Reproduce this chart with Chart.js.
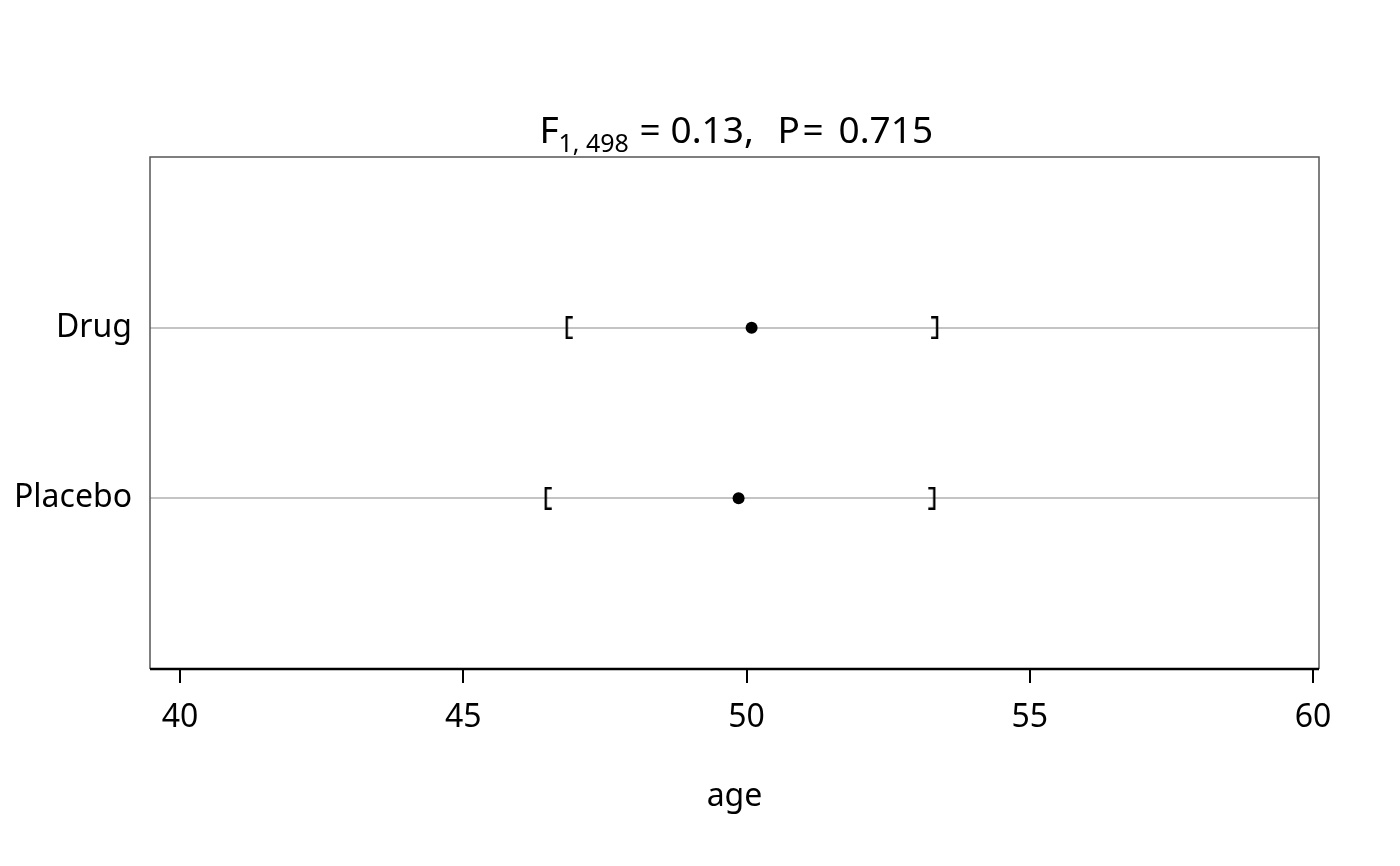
<!DOCTYPE html>
<html>
<head>
<meta charset="utf-8">
<script src="https://cdn.jsdelivr.net/npm/chart.js@4"></script>
<style>
  html, body { margin: 0; padding: 0; background: #fff; }
  #wrap { width: 1400px; height: 866px; }
</style>
</head>
<body>
<div id="wrap"><canvas id="myChart" width="1400" height="866"></canvas></div>
<script>
// groups, bottom to top
const groups = ["Placebo", "Drug"];
const means = [49.86, 50.09];
const lower = [46.50, 46.87];
const upper = [53.27, 53.32];
const xTicks = [40, 45, 50, 55, 60];

const FONT = "'Noto Sans', 'Open Sans', sans-serif";

// small bracket glyphs used as point styles
function bracket(side) {
  const c = document.createElement("canvas");
  c.width = 9;
  c.height = 23;
  const g = c.getContext("2d");
  g.strokeStyle = "#000";
  g.lineWidth = 2.4;
  g.beginPath();
  if (side === "[") {
    g.moveTo(8, 1.2); g.lineTo(2, 1.2); g.lineTo(2, 21.8); g.lineTo(8, 21.8);
  } else {
    g.moveTo(1, 1.2); g.lineTo(7, 1.2); g.lineTo(7, 21.8); g.lineTo(1, 21.8);
  }
  g.stroke();
  return c;
}

const toPoints = (arr) => arr.map((v, i) => ({ x: v, y: i + 1 }));

// title pieces, offsets from the left end of the title (plotmath-like spacing)
const titleParts = [
  { text: "F", dx: 0, sub: false },
  { text: "1, 498", dx: 19, sub: true },
  { text: "=", dx: 100, sub: false },
  { text: "0.13,", dx: 131, sub: false },
  { text: "P", dx: 238, sub: false },
  { text: "=", dx: 263, sub: false },
  { text: "0.715", dx: 299, sub: false }
];
const titleWidth = 398;

const frameAndTitle = {
  id: "frameAndTitle",
  afterDraw(chart) {
    const ctx = chart.ctx;
    const a = chart.chartArea;
    ctx.save();
    // plot frame
    ctx.strokeStyle = "#555";
    ctx.lineWidth = 1.5;
    ctx.beginPath();
    ctx.moveTo(a.left, a.bottom);
    ctx.lineTo(a.left, a.top);
    ctx.lineTo(a.right, a.top);
    ctx.lineTo(a.right, a.bottom);
    ctx.stroke();
    // axis line
    ctx.strokeStyle = "#000";
    ctx.lineWidth = 2.5;
    ctx.beginPath();
    ctx.moveTo(a.left, a.bottom);
    ctx.lineTo(a.right, a.bottom);
    ctx.stroke();

    // title
    const x0 = (a.left + a.right) / 2 + 4 - titleWidth / 2;
    const base = 143;
    ctx.fillStyle = "#000";
    ctx.textBaseline = "alphabetic";
    ctx.textAlign = "left";
    titleParts.forEach((p) => {
      ctx.font = (p.sub ? "25px " : "37px ") + FONT;
      ctx.fillText(p.text, x0 + p.dx, p.sub ? base + 9 : base);
    });
    ctx.restore();
  }
};

const ctx = document.getElementById("myChart").getContext("2d");
const myChart = new Chart(ctx, {
  type: "scatter",
  data: {
    datasets: [
      {
        label: "lower",
        data: toPoints(lower),
        pointStyle: bracket("["),
        pointRadius: 6
      },
      {
        label: "upper",
        data: toPoints(upper),
        pointStyle: bracket("]"),
        pointRadius: 6
      },
      {
        label: "mean",
        data: toPoints(means),
        pointStyle: "circle",
        pointRadius: 6,
        backgroundColor: "#000",
        borderColor: "#000",
        borderWidth: 0
      }
    ]
  },
  options: {
    responsive: false,
    animation: false,
    devicePixelRatio: 1,
    layout: { padding: { left: 15, top: 157, right: 81, bottom: 0 } },
    plugins: {
      legend: { display: false },
      tooltip: { enabled: false }
    },
    scales: {
      x: {
        type: "linear",
        min: 39.47,
        max: 60.106,
        afterBuildTicks: (s) => { s.ticks = xTicks.map((v) => ({ value: v })); },
        afterFit: (s) => { s.height = 197; },
        border: { display: false },
        grid: {
          drawOnChartArea: false,
          drawTicks: true,
          tickLength: 14,
          color: "#000",
          lineWidth: 2
        },
        ticks: {
          color: "#000",
          font: { family: FONT, size: 32 },
          padding: 16,
          maxRotation: 0
        },
        title: {
          display: true,
          text: "age",
          color: "#000",
          font: { family: FONT, size: 32 },
          padding: { top: 4, bottom: 50 }
        }
      },
      y: {
        type: "linear",
        min: 0,
        max: 3,
        afterBuildTicks: (s) => { s.ticks = groups.map((g, i) => ({ value: i + 1 })); },
        afterFit: (s) => { s.width = 135; },
        border: { display: false },
        grid: {
          drawTicks: false,
          color: "#c4c4c4",
          lineWidth: 2
        },
        ticks: {
          color: "#000",
          font: { family: FONT, size: 32 },
          padding: 18,
          callback: (v) => groups[v - 1]
        }
      }
    }
  },
  plugins: [frameAndTitle]
});
</script>
</body>
</html>
